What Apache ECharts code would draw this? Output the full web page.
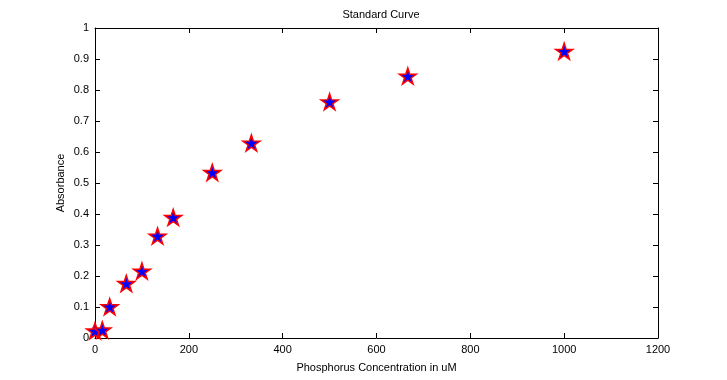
<!DOCTYPE html>
<html><head><meta charset="utf-8">
<script src="https://cdn.jsdelivr.net/npm/echarts@6/dist/echarts.min.js"></script>
<style>html,body{margin:0;padding:0;background:#fff}#c{width:727px;height:380px}</style>
</head><body><div id="c"></div>
<script>
const concentration = [0, 15.6, 31.3, 66.7, 100, 133.3, 166.7, 250, 333.3, 500, 666.7, 1000];
const absorbance = [0.023, 0.026, 0.101, 0.176, 0.216, 0.329, 0.389, 0.534, 0.629, 0.762, 0.845, 0.925];
const xTicks = [0, 200, 400, 600, 800, 1000, 1200];
const yTicks = [0, 0.1, 0.2, 0.3, 0.4, 0.5, 0.6, 0.7, 0.8, 0.9, 1];

const star = 'path://M50 0 L61.23 34.55 L97.55 34.55 L68.16 55.9 L79.39 90.45 L50 69.1 L20.61 90.45 L31.84 55.9 L2.45 34.55 L38.77 34.55 Z';
const font = 'Liberation Sans';
const lbl = {color:'#000', fontFamily:font, fontSize:11};
const line = {lineStyle:{color:'#000', width:1}};

const chart = echarts.init(document.getElementById('c'), null, {renderer:'canvas'});
chart.setOption({
  animation:false,
  backgroundColor:'#fff',
  title:{text:'Standard Curve', left:376, top:4, textAlign:'center',
    textStyle:{color:'#000', fontFamily:font, fontSize:11, fontWeight:'normal'}},
  grid:{left:95, right:69, top:28, bottom:42},
  xAxis:[{
    type:'value', min:xTicks[0], max:xTicks[xTicks.length-1], interval:200,
    name:'Phosphorus Concentration in uM', nameLocation:'middle', nameGap:24,
    nameTextStyle:lbl,
    axisLine:{show:true, onZero:false, ...line},
    axisTick:{show:true, inside:true, length:5, ...line},
    axisLabel:{...lbl, margin:6, formatter:v=>String(v)},
    splitLine:{show:false}
  },{
    type:'value', position:'top', min:xTicks[0], max:xTicks[xTicks.length-1], interval:200,
    axisLine:{show:true, onZero:false, ...line},
    axisTick:{show:true, inside:true, length:5, ...line},
    axisLabel:{show:false}, splitLine:{show:false}
  }],
  yAxis:[{
    type:'value', min:yTicks[0], max:yTicks[yTicks.length-1], interval:0.1,
    name:'Absorbance', nameLocation:'middle', nameGap:29, nameMoveOverlap:false,
    nameTextStyle:lbl,
    axisLine:{show:true, onZero:false, ...line},
    axisTick:{show:true, inside:true, length:5, ...line},
    axisLabel:{...lbl, margin:6, formatter:v=>String(Math.round(v*10)/10)},
    splitLine:{show:false}
  },{
    type:'value', position:'right', min:yTicks[0], max:yTicks[yTicks.length-1], interval:0.1,
    axisLine:{show:true, onZero:false, ...line},
    axisTick:{show:true, inside:true, length:5, ...line},
    axisLabel:{show:false}, splitLine:{show:false}
  }],
  series:[{
    type:'scatter',
    data:concentration.map((c,i)=>[c, absorbance[i]]),
    symbol:star, symbolSize:[17,16],
    clip:false,
    itemStyle:{color:'#0000ff', borderColor:'#ff0000', borderWidth:1.5, opacity:1}
  }]
});
</script></body></html>
